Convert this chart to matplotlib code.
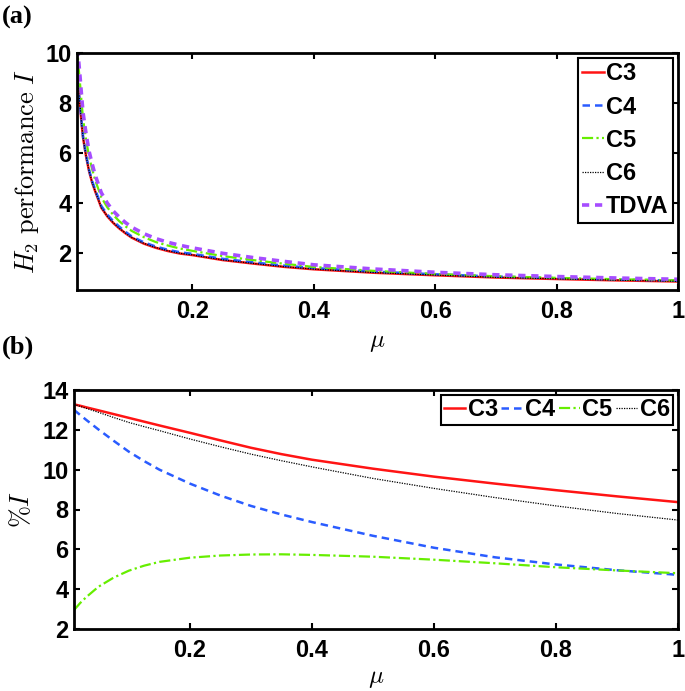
import matplotlib
matplotlib.use('Agg')
from matplotlib import pyplot as plt

# valores (a)
mu_a = [0.01, 0.0125, 0.015, 0.0175, 0.02, 0.025, 0.03, 0.035, 0.04, 0.045,
        0.05, 0.06, 0.07, 0.08, 0.09, 0.1, 0.12, 0.14, 0.16, 0.18,
        0.2, 0.25, 0.3, 0.35, 0.4, 0.5, 0.6, 0.7, 0.8, 0.9, 1.0]
c3_a = [9.3, 8.5, 7.9, 7.2, 6.6, 5.85, 5.25, 4.8, 4.45, 4.13,
        3.8, 3.45, 3.18, 2.96, 2.77, 2.6, 2.36, 2.19, 2.06, 1.96,
        1.9, 1.7, 1.56, 1.43, 1.33, 1.19, 1.09, 1.0, 0.94, 0.885, 0.84]
c4_a = [9.33, 8.53, 7.93, 7.24, 6.64, 5.9, 5.31, 4.86, 4.52, 4.2,
        3.87, 3.52, 3.25, 3.03, 2.83, 2.65, 2.41, 2.24, 2.11, 2.01,
        1.95, 1.75, 1.61, 1.48, 1.38, 1.235, 1.13, 1.04, 0.978, 0.92, 0.874]
c5_a = [10.38, 9.45, 8.77, 8.03, 7.35, 6.51, 5.83, 5.34, 4.9, 4.56,
        4.22, 3.81, 3.5, 3.25, 3.05, 2.87, 2.62, 2.42, 2.28, 2.16,
        2.07, 1.86, 1.7, 1.555, 1.424, 1.265, 1.143, 1.051, 0.987, 0.932, 0.885]
c6_a = [9.3, 8.5, 7.9, 7.2, 6.61, 5.86, 5.26, 4.81, 4.46, 4.14,
        3.81, 3.46, 3.19, 2.97, 2.78, 2.61, 2.37, 2.2, 2.07, 1.97,
        1.906, 1.706, 1.566, 1.437, 1.336, 1.197, 1.098, 1.008, 0.949, 0.895, 0.85]
tdva_a = [10.7, 9.75, 9.05, 8.3, 7.6, 6.75, 6.05, 5.55, 5.1, 4.75,
          4.4, 3.98, 3.66, 3.41, 3.2, 3.02, 2.76, 2.56, 2.41, 2.29,
          2.19, 1.97, 1.8, 1.65, 1.51, 1.34, 1.21, 1.11, 1.04, 0.98, 0.93]

# valores (b)
mu_b = [0.01, 0.02, 0.03, 0.05, 0.075, 0.1, 0.125, 0.15, 0.2, 0.25,
        0.3, 0.35, 0.4, 0.5, 0.6, 0.7, 0.8, 0.9, 1.0]
c3_b = [13.28, 13.21, 13.13, 12.98, 12.79, 12.6, 12.41, 12.22, 11.85, 11.47,
        11.1, 10.78, 10.5, 10.05, 9.65, 9.3, 8.97, 8.66, 8.37]
c4_b = [13.0, 12.75, 12.5, 12.02, 11.45, 10.9, 10.43, 10.0, 9.3, 8.7,
        8.18, 7.75, 7.37, 6.68, 6.08, 5.6, 5.24, 4.95, 4.72]
c5_b = [2.95, 3.3, 3.6, 4.12, 4.58, 4.93, 5.18, 5.37, 5.58, 5.69,
        5.74, 5.75, 5.72, 5.63, 5.48, 5.3, 5.1, 4.94, 4.8]
c6_b = [13.28, 13.18, 13.08, 12.88, 12.62, 12.37, 12.16, 11.96, 11.54, 11.15,
        10.78, 10.45, 10.14, 9.56, 9.06, 8.6, 8.18, 7.8, 7.47]

labels = ['C3', 'C4', 'C5', 'C6', 'TDVA']
xticks = [0.2, 0.4, 0.6, 0.8, 1.0]
xticklabels = ['0.2', '0.4', '0.6', '0.8', '1']

plt.rcParams['mathtext.fontset'] = 'cm'
plt.rcParams['font.family'] = 'Liberation Sans'

fig = plt.figure(figsize=(6.85, 6.91), dpi=100)
ax1 = fig.add_axes([77/685, 1-290/691, 601/685, 237/691])
ax2 = fig.add_axes([74/685, 1-629/691, 604/685, 239/691])

# estilos das linhas (tipo matlab)
estilo = {
    'C3': dict(color='#ff1414', ls='-', lw=1.8),
    'C4': dict(color='#2a5cff', ls=(0, (3, 2)), lw=1.8),
    'C5': dict(color='#66ee00', ls=(0, (5, 1.5, 1, 1.5)), lw=1.6),
    'C6': dict(color='black', ls=(0, (1, 1)), lw=0.9),
    'TDVA': dict(color='#a64dff', ls=(0, (2, 1.6)), lw=2.6),
}

series_a = [c3_a, c4_a, c5_a, c6_a, tdva_a]
for nome, y in zip(labels, series_a):
    ax1.plot(mu_a, y, label=nome, **estilo[nome])

series_b = [c3_b, c4_b, c5_b, c6_b]
for nome, y in zip(labels[:4], series_b):
    ax2.plot(mu_b, y, label=nome, **estilo[nome])

for ax in (ax1, ax2):
    ax.set_xlim(0.01, 1.0)
    ax.set_xticks(xticks)
    ax.set_xticklabels(xticklabels)
    ax.tick_params(direction='in', length=4.5, width=1.5, top=True, right=True,
                   labelsize=17)
    ax.tick_params(axis='x', pad=7)
    ax.tick_params(axis='y', pad=4)
    for s in ax.spines.values():
        s.set_linewidth(2)
    for t in ax.get_xticklabels() + ax.get_yticklabels():
        t.set_fontweight('bold')

ax1.set_ylim(0.5, 10)
ax1.set_yticks([2, 4, 6, 8, 10])
ax2.set_ylim(2, 14)
ax2.set_yticks([2, 4, 6, 8, 10, 12, 14])

ax1.set_xlabel(r'$\mu$', fontsize=18, labelpad=5)
ax2.set_xlabel(r'$\mu$', fontsize=18, labelpad=3)
ax1.set_ylabel(r'$H_2\ \mathrm{performance}\ I$', fontsize=19, labelpad=3)
ax2.set_ylabel(r'$\%I$', fontsize=19, labelpad=6)

fig.text(0.003, 0.992, '(a)', fontsize=19, family='Liberation Serif',
         fontweight='bold', va='top')
fig.text(0.003, 0.515, '(b)', fontsize=19, family='Liberation Serif',
         fontweight='bold', va='top')

leg1 = ax1.legend(loc='upper right', handlelength=0.9,
                  handletextpad=0.1, labelspacing=0.43, borderpad=0.2,
                  borderaxespad=0.2, fancybox=False, framealpha=1,
                  edgecolor='black', prop={'weight': 'bold', 'size': 17})
leg1.get_frame().set_linewidth(1.5)

leg2 = ax2.legend(loc='upper right', ncol=4, handlelength=0.9,
                  handletextpad=0.1, columnspacing=0.15, borderpad=0.15,
                  borderaxespad=0.2, fancybox=False, framealpha=1,
                  edgecolor='black', prop={'weight': 'bold', 'size': 17})
leg2.get_frame().set_linewidth(1.5)

fig.savefig('out.png', dpi=100)
